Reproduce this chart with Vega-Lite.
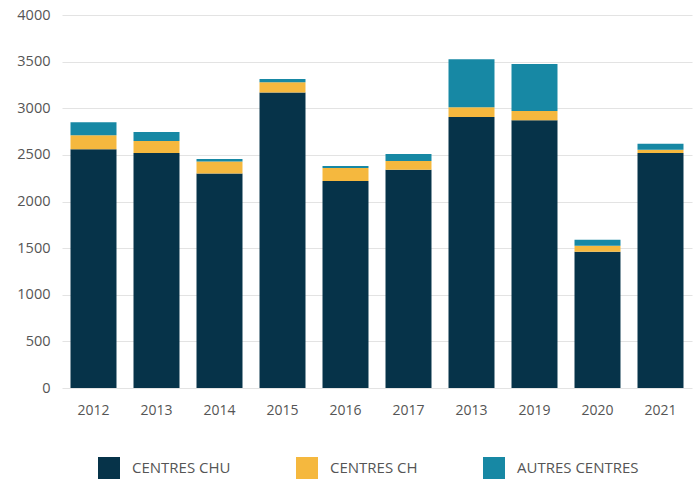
{
  "$schema": "https://vega.github.io/schema/vega-lite/v6.json",
  "width": 630,
  "height": 373,
  "autosize": "none",
  "padding": {"left": 62, "top": 15, "right": 3, "bottom": 91},
  "background": "white",
  "config": {
    "view": {"stroke": null},
    "font": "Open Sans",
    "axis": {"labelFont": "Open Sans", "labelColor": "#555555", "labelFontSize": 14}
  },
  "data": {
    "values": [
      {"cle": "2012", "categorie": "CENTRES CHU", "ordre": 1, "valeur": 2560},
      {"cle": "2012", "categorie": "CENTRES CH", "ordre": 2, "valeur": 150},
      {"cle": "2012", "categorie": "AUTRES CENTRES", "ordre": 3, "valeur": 140},
      {"cle": "2013", "categorie": "CENTRES CHU", "ordre": 1, "valeur": 2520},
      {"cle": "2013", "categorie": "CENTRES CH", "ordre": 2, "valeur": 130},
      {"cle": "2013", "categorie": "AUTRES CENTRES", "ordre": 3, "valeur": 95},
      {"cle": "2014", "categorie": "CENTRES CHU", "ordre": 1, "valeur": 2300},
      {"cle": "2014", "categorie": "CENTRES CH", "ordre": 2, "valeur": 130},
      {"cle": "2014", "categorie": "AUTRES CENTRES", "ordre": 3, "valeur": 25},
      {"cle": "2015", "categorie": "CENTRES CHU", "ordre": 1, "valeur": 3170},
      {"cle": "2015", "categorie": "CENTRES CH", "ordre": 2, "valeur": 110},
      {"cle": "2015", "categorie": "AUTRES CENTRES", "ordre": 3, "valeur": 35},
      {"cle": "2016", "categorie": "CENTRES CHU", "ordre": 1, "valeur": 2220},
      {"cle": "2016", "categorie": "CENTRES CH", "ordre": 2, "valeur": 140},
      {"cle": "2016", "categorie": "AUTRES CENTRES", "ordre": 3, "valeur": 20},
      {"cle": "2017", "categorie": "CENTRES CHU", "ordre": 1, "valeur": 2340},
      {"cle": "2017", "categorie": "CENTRES CH", "ordre": 2, "valeur": 95},
      {"cle": "2017", "categorie": "AUTRES CENTRES", "ordre": 3, "valeur": 75},
      {"cle": "2013bis", "categorie": "CENTRES CHU", "ordre": 1, "valeur": 2905},
      {"cle": "2013bis", "categorie": "CENTRES CH", "ordre": 2, "valeur": 105},
      {"cle": "2013bis", "categorie": "AUTRES CENTRES", "ordre": 3, "valeur": 515},
      {"cle": "2019", "categorie": "CENTRES CHU", "ordre": 1, "valeur": 2870},
      {"cle": "2019", "categorie": "CENTRES CH", "ordre": 2, "valeur": 100},
      {"cle": "2019", "categorie": "AUTRES CENTRES", "ordre": 3, "valeur": 505},
      {"cle": "2020", "categorie": "CENTRES CHU", "ordre": 1, "valeur": 1460},
      {"cle": "2020", "categorie": "CENTRES CH", "ordre": 2, "valeur": 65},
      {"cle": "2020", "categorie": "AUTRES CENTRES", "ordre": 3, "valeur": 65},
      {"cle": "2021", "categorie": "CENTRES CHU", "ordre": 1, "valeur": 2520},
      {"cle": "2021", "categorie": "CENTRES CH", "ordre": 2, "valeur": 35},
      {"cle": "2021", "categorie": "AUTRES CENTRES", "ordre": 3, "valeur": 65}
    ]
  },
  "mark": {"type": "bar"},
  "encoding": {
    "x": {
      "field": "cle",
      "type": "ordinal",
      "sort": ["2012", "2013", "2014", "2015", "2016", "2017", "2013bis", "2019", "2020", "2021"],
      "scale": {"paddingInner": 0.27, "paddingOuter": 0.135},
      "axis": {
        "title": null,
        "labelAngle": 0,
        "labelExpr": "slice(datum.label, 0, 4)",
        "domain": false,
        "ticks": false,
        "labelPadding": 15
      }
    },
    "y": {
      "field": "valeur",
      "type": "quantitative",
      "aggregate": "sum",
      "stack": "zero",
      "scale": {"domain": [0, 4000]},
      "axis": {
        "title": null,
        "format": "d",
        "labelFontSize": 14.5,
        "values": [0, 500, 1000, 1500, 2000, 2500, 3000, 3500, 4000],
        "domain": false,
        "ticks": false,
        "labelPadding": 12,
        "gridColor": "#e3e3e3",
        "gridWidth": 1
      }
    },
    "color": {
      "field": "categorie",
      "type": "nominal",
      "scale": {
        "domain": ["CENTRES CHU", "CENTRES CH", "AUTRES CENTRES"],
        "range": ["#063349", "#F5B83E", "#1788A4"]
      },
      "legend": {
        "title": null,
        "orient": "none",
        "direction": "horizontal",
        "legendX": 36,
        "legendY": 442,
        "symbolType": "square",
        "symbolSize": 484,
        "symbolStrokeWidth": 0,
        "symbolOpacity": 1,
        "labelFont": "Open Sans",
        "labelFontSize": 15,
        "labelColor": "#555555",
        "labelOffset": 12,
        "columnPadding": 65
      }
    },
    "order": {"field": "ordre", "type": "quantitative"}
  }
}
